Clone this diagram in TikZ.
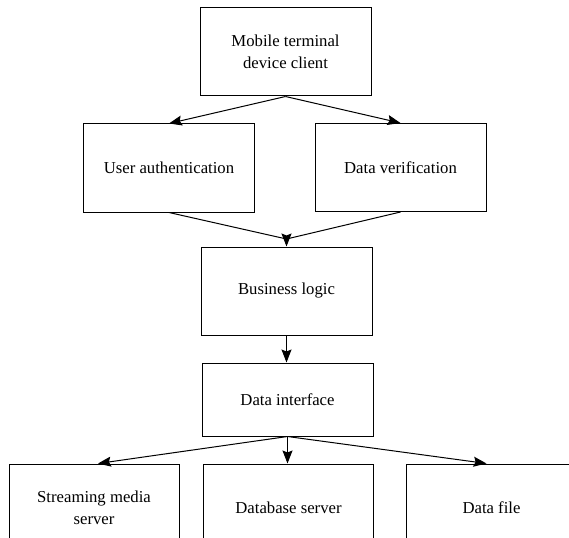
\documentclass[tikz,border=0pt]{standalone}
\usepackage{fontspec}
\setmainfont{Liberation Serif}
\usetikzlibrary{arrows.meta}
\begin{document}
\begin{tikzpicture}[x=1pt,y=-1pt,
  box/.style={draw, line width=1pt, rectangle, minimum width=171pt, minimum height=88pt,
    align=center, inner sep=0pt, font=\fontsize{16.7}{21.5}\selectfont},
  conn/.style={draw, line width=1pt},
  arr/.style={conn, -{Stealth[length=13pt,width=10pt,inset=2pt]}}]
\useasboundingbox (0,0) rectangle (569,537);
\node[box] (top) at (285.5,52) {Mobile terminal\\device client};
\node[box] (ua) at (169,168) {User authentication};
\node[box] (dv) at (400.5,167.5) {Data verification};
\node[box] (bl) at (286.5,291) {Business logic};
\node[box, minimum height=73pt] (di) at (287.5,399.5) {Data interface};
\node[box, minimum width=170pt] (sm) at (94,508) {Streaming media\\server};
\node[box, minimum width=170pt] (db) at (288.5,508) {Database server};
\node[box] (df) at (491.5,508) {Data file};
\coordinate (j) at (286.5,239);
\draw[arr] (top.south) -- (ua.north);
\draw[arr] (top.south) -- (dv.north);
\draw[conn] (ua.south) -- (j);
\draw[conn] (dv.south) -- (j);
\draw[arr] (j) -- (bl.north);
\draw[arr] (bl.south) -- (bl.south |- di.north);
\draw[arr] (di.south) -- ([xshift=4pt]sm.north);
\draw[arr] (di.south) -- (di.south |- db.north);
\draw[arr] (di.south) -- ([xshift=-5pt]df.north);
\end{tikzpicture}
\end{document}
